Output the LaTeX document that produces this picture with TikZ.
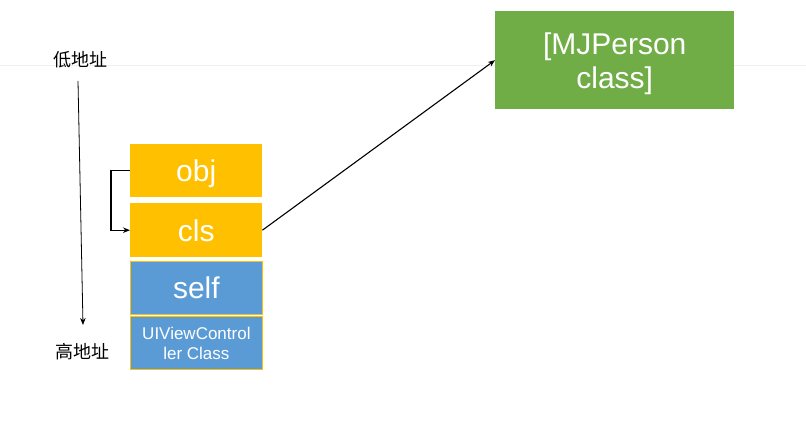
\documentclass[tikz,border=0pt]{standalone}
\usepackage{fontspec}
\setmainfont{Liberation Sans}
\newfontfamily\cjk{Noto Sans CJK SC}
\usetikzlibrary{arrows.meta}
\definecolor{cyel}{HTML}{FFC000}
\definecolor{cblue}{HTML}{5B9BD5}
\definecolor{cgreen}{HTML}{70AD47}
\begin{document}
\begin{tikzpicture}[x=1pt,y=-1pt,
  cell/.style={anchor=north west,inner sep=0pt,text=white,align=center,text depth=0pt},
  ybox/.style={cell,fill=cyel},
  bbox/.style={cell,fill=cblue,draw=cyel,line width=0.8pt},
  addr/.style={font=\cjk\fontsize{18}{20}\selectfont,inner sep=0pt},
  conn/.style={-{Stealth[length=7pt,width=5.5pt]},line width=1.1pt}]
\useasboundingbox (0,0) rectangle (806,427);
\draw[black!6,line width=1pt] (0,66) -- (806,66);
\node[ybox,minimum width=132pt,minimum height=53pt,font=\fontsize{30}{32}\selectfont] (obj) at (130,144) {obj};
\node[ybox,minimum width=132pt,minimum height=54pt,font=\fontsize{30}{32}\selectfont] (cls) at (130,203) {cls};
\node[bbox,minimum width=132pt,minimum height=53pt,font=\fontsize{30}{32}\selectfont] (self) at (130,261) {self};
\node[bbox,minimum width=132pt,minimum height=53pt,font=\fontsize{17}{20}\selectfont] (uivc) at (130,316) {UIViewControl\\ler Class};
\node[cell,fill=cgreen,minimum width=239pt,minimum height=98pt,font=\fontsize{30}{34}\selectfont] (mj) at (495,11) {[MJPerson\\class]};
\node[addr] (low) at (80,60) {低地址};
\node[addr] (high) at (82,352) {高地址};
\coordinate (at) at (78,81);
\coordinate (ab) at (83,325);
\draw[conn,line width=0.8pt] (at) -- (ab);
\draw[conn] (obj.west) -- ++(-19,0) |- (cls.west);
\draw[conn] (cls.east) -- (mj.west);
\end{tikzpicture}
\end{document}
